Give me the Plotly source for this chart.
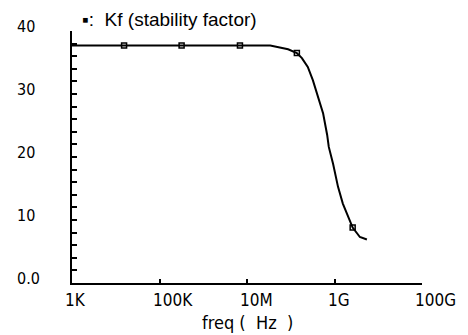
import math
import plotly.graph_objects as go

# Kf (stability factor) vs frequency
freq_hz = [1e3, 1e4, 1e5, 1e6, 1e7, 3.4e7, 8.7e7, 1.38e8, 1.8e8, 2.45e8, 3.2e8,
           4.2e8, 5.5e8, 6.8e8, 7.4e8, 9.3e8, 1.2e9, 1.55e9, 2.05e9, 2.6e9, 3.8e9, 5.5e9]
kf = [37.7, 37.7, 37.7, 37.7, 37.7, 37.7, 37.1, 36.5, 35.7, 34.3, 32.2,
      29.5, 26.9, 23.5, 21.6, 18.9, 15.3, 12.6, 10.4, 8.8, 7.3, 6.9]

marker_freq = [1.55e4, 3.2e5, 6.9e6, 1.38e8, 2.6e9]
marker_kf = [37.7, 37.7, 37.7, 36.5, 8.8]

x_tickvals = [1e3, 1e5, 1e7, 1e9, 1e11]
x_ticktext = ["1K", "100K", "10M", "1G", "100G"]
y_tickvals = [0, 10, 20, 30, 40]
y_ticktext = ["0.0", "10", "20", "30", "40"]

FONT = "DejaVu Sans Condensed, DejaVu Sans, sans-serif"
NB = "\u00a0"

fig = go.Figure()
fig.add_trace(go.Scatter(x=freq_hz, y=kf, mode="lines",
                         line=dict(color="black", width=2), showlegend=False))
fig.add_trace(go.Scatter(x=marker_freq, y=marker_kf, mode="markers",
                         marker=dict(symbol="square-open", size=5, color="black",
                                     line=dict(width=1.5, color="black")),
                         showlegend=False))

W, H = 468, 335
ml, mr, mt, mb = 72, 46, 31, 52
fig.update_layout(
    width=W, height=H,
    margin=dict(l=ml, r=mr, t=mt, b=mb),
    paper_bgcolor="white", plot_bgcolor="white",
    font=dict(family=FONT, color="black"),
    xaxis=dict(type="log", range=[3, 11], tickvals=x_tickvals,
               ticks="inside", ticklen=4, tickwidth=2, tickcolor="black",
               showline=True, linecolor="black", linewidth=2, showgrid=False,
               zeroline=False, showticklabels=False),
    yaxis=dict(range=[0, 40], dtick=2, tick0=0, ticks="inside", ticklen=5, tickwidth=2,
               tickcolor="black", showline=True, linecolor="black", linewidth=2,
               showgrid=False, zeroline=False, showticklabels=False),
)

for v, t in zip(x_tickvals, x_ticktext):
    fig.add_annotation(x=math.log10(v), xref="x", xanchor="left", xshift=-9,
                       y=0, yref="paper", yanchor="top", yshift=-5, showarrow=False,
                       text=t, font=dict(size=17, family=FONT))

fig.add_annotation(x=0.5, xref="paper", xanchor="center", xshift=0,
                   y=0, yref="paper", yanchor="top", yshift=-27, showarrow=False,
                   text="freq" + NB + "(" + NB * 2 + "Hz" + NB * 2 + ")",
                   font=dict(size=18, family=FONT))

for v, t in zip(y_tickvals, y_ticktext):
    fig.add_annotation(x=(15 - ml) / (W - ml - mr), xref="paper", xanchor="left",
                       y=v, yref="y", yanchor="middle", yshift=5, showarrow=False,
                       text=t, font=dict(size=16, family=FONT))

fig.add_annotation(x=(80 - ml) / (W - ml - mr), xref="paper", xanchor="left",
                   y=1, yref="paper", yanchor="middle", yshift=12, showarrow=False,
                   text="▪:" + NB * 2 + "Kf" + NB + "(stability" + NB + "factor)",
                   font=dict(size=19, family="Liberation Sans, sans-serif"))

fig.write_html("out.html")
